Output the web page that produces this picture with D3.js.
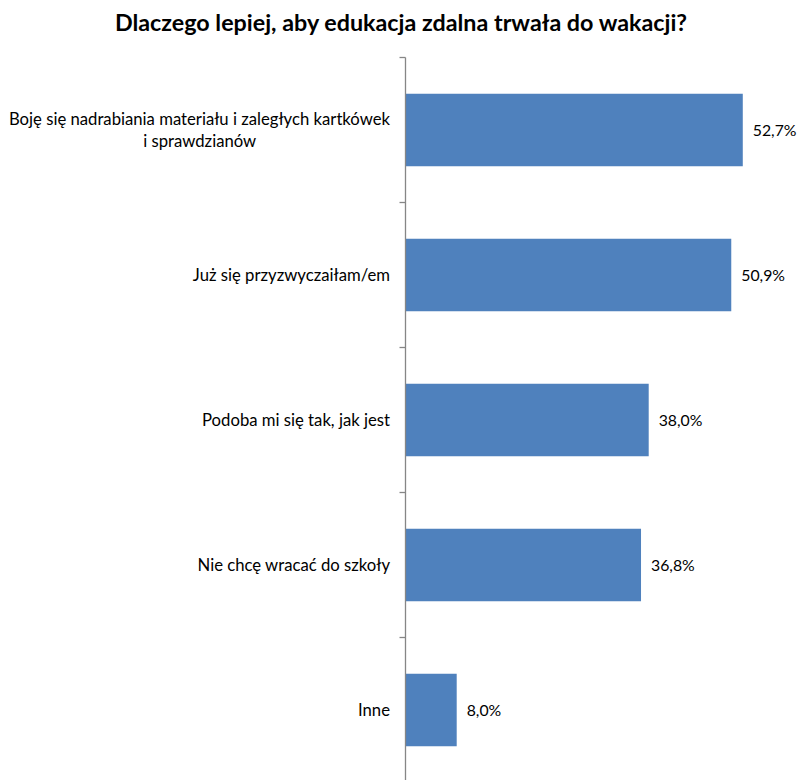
<!DOCTYPE html>
<html>
<head>
<meta charset="utf-8">
<script src="https://cdn.jsdelivr.net/npm/d3@7"></script>
<style>
  body { margin: 0; background: #fff; }
  svg { display: block; font-family: Lato, "Open Sans", sans-serif; }
</style>
</head>
<body>
<svg id="chart" width="800" height="780"></svg>
<script>
const title = "Dlaczego lepiej, aby edukacja zdalna trwała do wakacji?";
const categories = [
  ["Boję się nadrabiania materiału i zaległych kartkówek", "i sprawdzianów"],
  ["Już się przyzwyczaiłam/em"],
  ["Podoba mi się tak, jak jest"],
  ["Nie chcę wracać do szkoły"],
  ["Inne"]
];
const values = [52.7, 50.9, 38.0, 36.8, 8.0];

const svg = d3.select("#chart");
const axisX = 405.5;
const plotTop = 57.5, plotBottom = 782.5;
const labelRight = 390;

const keys = categories.map((c, i) => i);
const y = d3.scaleBand().domain(keys).range([plotTop, plotBottom]).paddingInner(0.5).paddingOuter(0.25);
const x = d3.scaleLinear().domain([0, 60]).range([axisX, axisX + 384]);

svg.append("text")
  .attr("x", 401).attr("y", 31)
  .attr("text-anchor", "middle")
  .attr("font-weight", "bold")
  .attr("font-size", 23.3)
  .attr("fill", "#000")
  .text(title);

// bars
svg.append("g").selectAll("rect")
  .data(values)
  .join("rect")
  .attr("x", x(0))
  .attr("y", (d, i) => y(i))
  .attr("width", d => x(d) - x(0))
  .attr("height", y.bandwidth())
  .attr("fill", "#4f81bd");

// value labels
const fmt = v => v.toFixed(1).replace(".", ",") + "%";
svg.append("g").selectAll("text")
  .data(values)
  .join("text")
  .attr("x", d => x(d) + 10)
  .attr("y", (d, i) => y(i) + y.bandwidth() / 2)
  .attr("dy", "0.35em")
  .attr("font-size", 15.8)
  .attr("fill", "#000")
  .text(fmt);

// category axis
const bandStep = y.step();
const tickYs = d3.range(categories.length).map(i => plotTop + i * bandStep);
const axisG = svg.append("g");
axisG.append("line")
  .attr("x1", axisX).attr("x2", axisX)
  .attr("y1", plotTop).attr("y2", 780)
  .attr("stroke", "#868686").attr("stroke-width", 1.3);
axisG.selectAll("line.tick")
  .data(tickYs)
  .join("line")
  .attr("class", "tick")
  .attr("x1", axisX - 6).attr("x2", axisX)
  .attr("y1", d => d).attr("y2", d => d)
  .attr("stroke", "#868686").attr("stroke-width", 1.3);

// category labels: first line right-aligned to the axis, further lines centred under it
const labelGroups = categories.map((lines, i) => {
  const cy = y(i) + y.bandwidth() / 2;
  const lh = 22;
  const g = svg.append("g");
  return lines.map((l, j) => g.append("text")
    .attr("x", labelRight)
    .attr("y", cy + (j - (lines.length - 1) / 2) * lh)
    .attr("dy", "0.35em")
    .attr("font-size", 16.7)
    .attr("fill", "#000")
    .attr("text-anchor", j === 0 ? "end" : "middle")
    .text(l));
});

function placeLabels() {
  labelGroups.forEach(texts => {
    if (texts.length < 2) return;
    const box = texts[0].node().getBBox();
    const cx = box.x + box.width / 2;
    texts.slice(1).forEach(t => t.attr("x", cx));
  });
}
placeLabels();
if (document.fonts && document.fonts.ready) document.fonts.ready.then(placeLabels);
</script>
</body>
</html>
